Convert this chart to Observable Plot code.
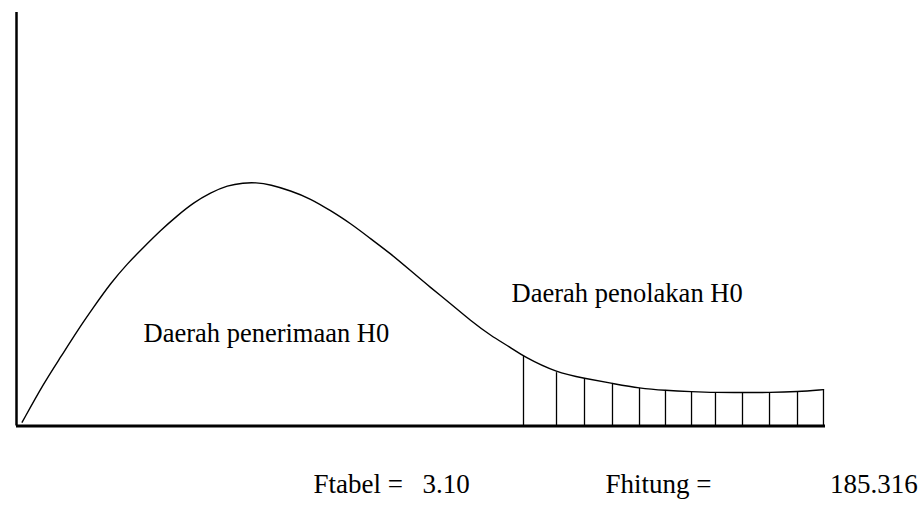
<!DOCTYPE html>
<html>
<head>
<meta charset="utf-8">
<script src="https://cdn.jsdelivr.net/npm/d3@7"></script>
<script src="https://cdn.jsdelivr.net/npm/@observablehq/plot@0.6"></script>
<style>
  html, body { margin: 0; padding: 0; background: #fff; }
  #chart svg { display: block; }
  #chart svg text { font-family: 'Liberation Serif', 'Times New Roman', serif; }
</style>
</head>
<body>
<div id="chart"></div>
<script>
// F-distribution sketch (arbitrary units 0..100)
const curveX = [0.70, 3.34, 5.44, 7.54, 9.52, 11.62, 13.72, 15.70, 17.80, 19.90, 21.88, 23.98, 26.08, 28.06, 29.54, 31.40, 33.87, 36.34, 38.81, 41.29, 43.76, 46.23, 48.70, 51.17, 53.65, 56.12, 58.59, 61.06, 62.67, 66.75, 70.21, 73.67, 77.01, 80.22, 83.44, 86.40, 89.74, 93.08, 96.54, 99.75];
const curveY = [0.92, 10.28, 16.6, 23.1, 28.7, 34.5, 39.3, 43.2, 47.3, 50.9, 54.0, 56.4, 58.2, 58.8, 58.9, 58.4, 56.9, 55.0, 52.1, 49.0, 45.3, 41.7, 37.6, 33.5, 29.6, 25.5, 21.9, 19.0, 16.8, 12.9, 11.5, 10.3, 9.1, 8.6, 8.3, 8.1, 8.1, 8.1, 8.3, 8.8];
// hatching in rejection region
const hatchX = [62.67, 66.75, 70.21, 73.67, 77.01, 80.22, 83.44, 86.40, 89.74, 93.08, 96.54, 99.75];
const hatchY = [16.8, 12.9, 11.5, 10.3, 9.1, 8.6, 8.3, 8.1, 8.1, 8.1, 8.3, 8.8];
// region labels
const regionLabels = ["Daerah penerimaan H0", "Daerah penolakan H0"];
const regionX = [15.7, 61.2];
const regionY = [20.4, 30.1];
// bottom labels
const bottomLabels = ["Ftabel =", "3.10", "Fhitung =", "185.316"];
const bottomX = [36.7, 50.2, 72.8, 111.4];
const bottomAnchor = ["start", "start", "start", "end"];
const bottomY = -16.3;

const curve = curveX.map((x, i) => ({x, y: curveY[i]}));
const hatch = hatchX.map((x, i) => ({x, y: hatchY[i]}));
const regions = regionLabels.map((t, i) => ({t, x: regionX[i], y: regionY[i]}));
const bottoms = bottomLabels.map((t, i) => ({t, x: bottomX[i], y: bottomY, a: bottomAnchor[i]}));

const font = "'Liberation Serif', 'Times New Roman', serif";

const plot = Plot.plot({
  width: 923,
  height: 505,
  marginLeft: 16,
  marginRight: 98,
  marginTop: 12,
  marginBottom: 79.5,
  x: {domain: [0, 100], axis: null},
  y: {domain: [0, 100], axis: null},
  style: {fontFamily: font, background: "#fff", overflow: "visible"},
  marks: [
    Plot.ruleX(hatch, {x: "x", y1: 0, y2: "y", stroke: "#000", strokeWidth: 1.3}),
    Plot.line(curve, {x: "x", y: "y", curve: "basis", stroke: "#000", strokeWidth: 1.4}),
    Plot.ruleY([0], {x1: 0, x2: 100, stroke: "#000", strokeWidth: 3}),
    Plot.ruleX([0], {y1: 0, y2: 100, stroke: "#000", strokeWidth: 2.5}),
    Plot.text(regions, {x: "x", y: "y", text: "t", textAnchor: "start", lineAnchor: "bottom", fontSize: 26.5, fontFamily: font, fill: "#000"}),
    Plot.text(bottoms.filter(d => d.a === "start"), {x: "x", y: "y", text: "t", textAnchor: "start", lineAnchor: "bottom", fontSize: 27, fontFamily: font, fill: "#000"}),
    Plot.text(bottoms.filter(d => d.a === "end"), {x: "x", y: "y", text: "t", textAnchor: "end", lineAnchor: "bottom", fontSize: 27, fontFamily: font, fill: "#000"})
  ]
});
document.getElementById("chart").appendChild(plot);
</script>
</body>
</html>
